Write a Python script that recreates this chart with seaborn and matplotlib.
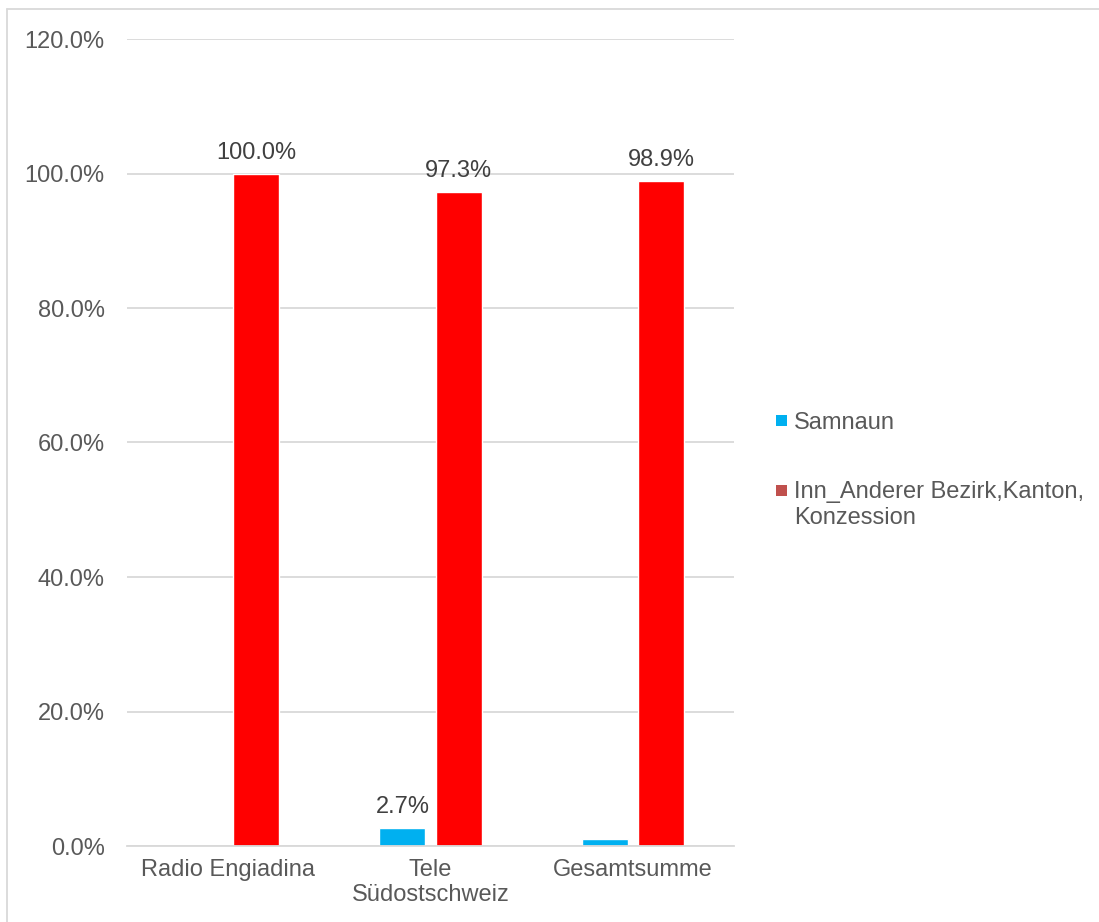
import matplotlib
matplotlib.use("Agg")
import matplotlib.pyplot as plt
import seaborn as sns
import pandas as pd
from matplotlib.patches import Patch, Rectangle
from matplotlib.lines import Line2D
from matplotlib.legend_handler import HandlerPatch
from matplotlib.ticker import FuncFormatter, MultipleLocator

categories = ["Radio Engiadina", "Tele\nSüdostschweiz", "Gesamtsumme"]
series_names = ["Samnaun", "Inn_Anderer Bezirk,Kanton,\nKonzession"]
samnaun = [0.0, 2.7, 1.1]
inn_andere = [100.0, 97.3, 98.9]
samnaun_labels = ["", "2.7%", ""]
inn_labels = ["100.0%", "97.3%", "98.9%"]

bar_colors = ["#00B0F0", "#FF0000"]
legend_colors = ["#00B0F0", "#C0504D"]

df = pd.DataFrame({
    "Kategorie": categories * 2,
    "Serie": [series_names[0]] * 3 + [series_names[1]] * 3,
    "Wert": samnaun + inn_andere,
})

sns.set_theme(style="white")
plt.rcParams["font.family"] = ["Liberation Sans", "DejaVu Sans"]

W, H = 1099, 922
fig = plt.figure(figsize=(W / 100, H / 100), dpi=100)
ax = fig.add_axes([127 / W, 1 - 846 / H, (734 - 127) / W, (846 - 39) / H])

sns.barplot(data=df, x="Kategorie", y="Wert", hue="Serie", order=categories,
            hue_order=series_names, palette=bar_colors, width=0.556, gap=0.18,
            saturation=1, ax=ax, legend=False, errorbar=None)

ax.set_ylim(0, 120)
ax.set_xlim(-0.5, 2.5)
ax.yaxis.set_major_locator(MultipleLocator(20))
ax.yaxis.set_major_formatter(FuncFormatter(lambda v, p: f"{v:.1f}%"))
ax.grid(axis="y", color="#D9D9D9", linewidth=1.3)
ax.set_axisbelow(True)
for s in ["top", "right", "left"]:
    ax.spines[s].set_visible(False)
ax.spines["bottom"].set_color("#D9D9D9")
ax.spines["bottom"].set_linewidth(1.3)
ax.set_xlabel("")
ax.set_ylabel("")
ax.tick_params(axis="both", length=0, labelsize=17, colors="#595959")
ax.tick_params(axis="y", pad=16)
ax.tick_params(axis="x", pad=9)

ax.bar_label(ax.containers[0], labels=samnaun_labels, padding=7, fontsize=17, color="#404040")
ax.bar_label(ax.containers[1], labels=inn_labels, padding=7, fontsize=17, color="#404040")


def square_single(legend, orig_handle, xdescent, ydescent, width, height, fontsize):
    s = 8.0
    return Rectangle((-xdescent, -ydescent + (height - s) / 2), s, s)


def square_top_line(legend, orig_handle, xdescent, ydescent, width, height, fontsize):
    s = 8.0
    return Rectangle((-xdescent, -ydescent + (height - s) / 2 + 0.6 * fontsize), s, s)


handles = [Patch(facecolor=c, edgecolor="none") for c in legend_colors]
fig.legend(handles, series_names, loc="upper left",
           bbox_to_anchor=(776 / W, 1 - 412 / H), frameon=False,
           fontsize=17, labelcolor="#595959", handlelength=0.47, handleheight=0.47,
           handletextpad=0.3, borderpad=0, borderaxespad=0, labelspacing=2.0,
           handler_map={handles[0]: HandlerPatch(patch_func=square_single),
                        handles[1]: HandlerPatch(patch_func=square_top_line)})

fig.add_artist(Line2D([7 / W, 7 / W], [0, 1 - 9 / H], color="#D9D9D9", lw=1.3, transform=fig.transFigure))
fig.add_artist(Line2D([7 / W, 1], [1 - 9 / H, 1 - 9 / H], color="#D9D9D9", lw=1.3, transform=fig.transFigure))

fig.savefig("out.png", dpi=100, facecolor="white")
